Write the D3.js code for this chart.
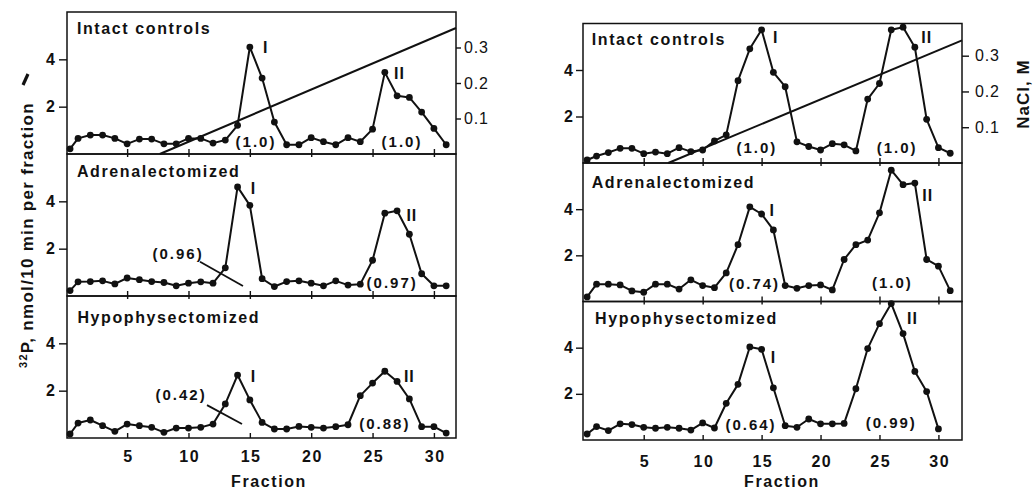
<!DOCTYPE html>
<html>
<head>
<meta charset="utf-8">
<script src="https://cdn.jsdelivr.net/npm/d3@7"></script>
<style>
  body { margin: 0; background: #fff; }
  text { font-family: "Liberation Sans", Arial, sans-serif; font-weight: bold; fill: #111; }
</style>
</head>
<body>
<svg id="chart" width="1035" height="489"></svg>
<script>
// fraction numbers (first point sits just inside the left frame)
const leftFractions = [0.35, 1, 2, 3, 4, 5, 6, 7, 8, 9, 10, 11, 12, 13, 14, 15, 16, 17, 18, 19, 20, 21, 22, 23, 24, 25, 26, 27, 28, 29, 30, 31];
const rightFractions = [0.2, 1, 2, 3, 4, 5, 6, 7, 8, 9, 10, 11, 12, 13, 14, 15, 16, 17, 18, 19, 20, 21, 22, 23, 24, 25, 26, 27, 28, 29, 30, 31];
const rightFractionsHypo = [0.2, 1, 2, 3, 4, 5, 6, 7, 8, 9, 10, 11, 12, 13, 14, 15, 16, 17, 18, 19, 20, 21, 22, 23, 24, 25, 26, 27, 28, 29, 30];

// 32P, nmol/10 min per fraction
const leftIntact = [0.22, 0.66, 0.8, 0.8, 0.66, 0.43, 0.63, 0.63, 0.43, 0.43, 0.66, 0.66, 0.46, 0.59, 1.21, 4.52, 3.21, 1.35, 0.39, 0.39, 0.69, 0.52, 0.39, 0.69, 0.52, 1.05, 3.45, 2.46, 2.39, 1.77, 1.08, 0.39];
const leftAdrenal = [0.23, 0.6, 0.61, 0.64, 0.51, 0.76, 0.69, 0.61, 0.57, 0.43, 0.54, 0.6, 0.54, 1.19, 4.61, 3.83, 0.73, 0.4, 0.61, 0.64, 0.54, 0.43, 0.64, 0.46, 0.5, 1.51, 3.5, 3.6, 2.61, 0.94, 0.43, 0.43];
const leftHypo = [0.17, 0.63, 0.76, 0.52, 0.28, 0.59, 0.52, 0.45, 0.24, 0.42, 0.42, 0.45, 0.59, 1.44, 2.66, 1.61, 0.66, 0.38, 0.38, 0.49, 0.45, 0.42, 0.48, 0.56, 1.79, 2.32, 2.82, 2.39, 1.65, 0.48, 0.48, 0.21];
const rightIntact = [0.13, 0.3, 0.45, 0.63, 0.63, 0.4, 0.47, 0.4, 0.66, 0.49, 0.56, 0.95, 1.21, 3.54, 4.91, 5.73, 3.9, 3.28, 0.91, 0.71, 0.56, 0.83, 0.78, 0.52, 2.75, 3.42, 5.73, 5.84, 4.98, 1.88, 0.66, 0.42];
const rightAdrenal = [0.2, 0.75, 0.75, 0.72, 0.46, 0.4, 0.75, 0.75, 0.54, 0.94, 0.69, 0.6, 1.24, 2.46, 4.1, 3.79, 3.1, 0.69, 0.57, 0.69, 0.72, 0.5, 1.82, 2.46, 2.66, 3.84, 5.69, 5.06, 5.13, 1.82, 1.53, 0.47];
const rightHypo = [0.26, 0.58, 0.41, 0.7, 0.67, 0.55, 0.51, 0.55, 0.51, 0.43, 0.74, 0.52, 1.59, 2.41, 4.03, 3.93, 2.26, 0.62, 0.55, 0.91, 0.7, 0.7, 0.72, 2.22, 3.96, 5.04, 5.91, 4.61, 2.97, 2.1, 0.48];

// NaCl gradient (fraction, M)
const leftGradient = [[7.66, 0], [31.8, 0.355]];
const rightGradient = [[7.08, 0], [32, 0.343]];

const xTicks = [5, 10, 15, 20, 25, 30];
const yTicks = [2, 4];
const naclTicks = [0.1, 0.2, 0.3];

// labels in data units [text, fraction, value, anchor]
const leftLabels = [
  [["Intact controls", 0.91, 5.09, "start"], ["I", 16.3, 4.28, "middle"], ["II", 27.2, 3.16, "middle"], ["(1.0)", 15.5, 0.3, "middle"], ["(1.0)", 27.4, 0.3, "middle"]],
  [["Adrenalectomized", 0.91, 5.03, "start"], ["I", 15.3, 4.31, "middle"], ["II", 28.2, 3.18, "middle"], ["(0.96)", 9.15, 1.55, "middle"], ["(0.97)", 26.6, 0.34, "middle"]],
  [["Hypophysectomized", 0.95, 4.85, "start"], ["I", 15.3, 2.38, "middle"], ["II", 28.0, 2.38, "middle"], ["(0.42)", 9.4, 1.6, "middle"], ["(0.88)", 26.0, 0.4, "middle"]]
];
const rightLabels = [
  [["Intact controls", 0.59, 5.08, "start"], ["I", 16.2, 5.15, "middle"], ["II", 29.0, 5.15, "middle"], ["(1.0)", 14.6, 0.45, "middle"], ["(1.0)", 26.5, 0.45, "middle"]],
  [["Adrenalectomized", 0.59, 4.9, "start"], ["I", 15.9, 3.7, "middle"], ["II", 29.1, 4.37, "middle"], ["(0.74)", 14.4, 0.54, "middle"], ["(1.0)", 26.1, 0.58, "middle"]],
  [["Hypophysectomized", 0.87, 5.01, "start"], ["I", 16.0, 3.35, "middle"], ["II", 27.8, 5.01, "middle"], ["(0.64)", 14.1, 0.43, "middle"], ["(0.99)", 26.0, 0.5, "middle"]]
];
// leader lines, left column only [panel, [f1, v1], [f2, v2]]
const leaders = [[1, [10.94, 1.45], [14.44, 0.42]], [2, [11.51, 1.39], [14.36, 0.59]]];

const svg = d3.select("#chart");
const FONT = "'Liberation Sans', Arial, sans-serif";

const sides = [
  { x0: 67, x1: 456, xDomain: [0.1, 31.8], edges: [12, 154, 296, 438], naclDomain: [0, 0.4],
    fractions: [leftFractions, leftFractions, leftFractions], series: [leftIntact, leftAdrenal, leftHypo],
    labels: leftLabels, gradient: leftGradient, tick: 8, pad: 4, naclTick: 5, naclPad: 3, xPad: 13, fracX: 269, fracY: 486.5 },
  { x0: 583, x1: 962, xDomain: [-0.15, 32], edges: [23.5, 163, 301.5, 440], naclDomain: [0, 0.39],
    fractions: [rightFractions, rightFractions, rightFractionsHypo], series: [rightIntact, rightAdrenal, rightHypo],
    labels: rightLabels, gradient: rightGradient, tick: 7, pad: 3, naclTick: 7, naclPad: 6, xPad: 15.5, fracX: 782, fracY: 487 }
];

sides.forEach((s, si) => {
  const x = d3.scaleLinear().domain(s.xDomain).range([s.x0, s.x1]);
  const g = svg.append("g");

  for (let p = 0; p < 3; p++) {
    const top = s.edges[p], bottom = s.edges[p + 1];
    const y = d3.scaleLinear().domain([0, 6]).range([bottom, top]);
    const pg = g.append("g");

    // y axis
    pg.append("g")
      .attr("transform", `translate(${s.x0},0)`)
      .call(d3.axisLeft(y).tickValues(yTicks).tickSize(s.tick).tickPadding(s.pad).tickFormat(d3.format("d")))
      .call(a => a.select(".domain").remove())
      .call(a => a.selectAll("line").attr("stroke", "#111").attr("stroke-width", 1.4))
      .call(a => a.selectAll("text").attr("font-size", 16).attr("fill", "#111")
        .style("font-family", FONT).style("font-weight", "bold"));

    // x ticks (inward), labels only on bottom panel
    pg.append("g")
      .attr("transform", `translate(0,${bottom})`)
      .call(d3.axisBottom(x).tickValues(xTicks).tickSize(-5).tickPadding(s.xPad)
        .tickFormat(p === 2 ? d3.format("d") : () => ""))
      .call(a => a.select(".domain").remove())
      .call(a => a.selectAll("line").attr("stroke", "#111").attr("stroke-width", 1.4))
      .call(a => a.selectAll("text").attr("font-size", 16).attr("fill", "#111")
        .attr("letter-spacing", "1.5px").attr("dx", "0.75px")
        .style("font-family", FONT).style("font-weight", "bold"));
    if (p > 0) {
      pg.append("g")
        .attr("transform", `translate(0,${top})`)
        .call(d3.axisTop(x).tickValues(xTicks).tickSize(-3).tickFormat(() => ""))
        .call(a => a.select(".domain").remove())
        .call(a => a.selectAll("line").attr("stroke", "#111").attr("stroke-width", 1.4));
    }

    // frame
    pg.append("rect")
      .attr("x", s.x0).attr("y", top)
      .attr("width", s.x1 - s.x0).attr("height", bottom - top)
      .attr("fill", "none").attr("stroke", "#111").attr("stroke-width", 1.5);

    // NaCl axis and gradient in the top panel
    if (p === 0) {
      const nacl = d3.scaleLinear().domain(s.naclDomain).range([bottom, top]);
      pg.append("g")
        .attr("transform", `translate(${s.x1},0)`)
        .call(d3.axisRight(nacl).tickValues(naclTicks).tickSize(s.naclTick).tickPadding(s.naclPad)
          .tickFormat(d3.format(".1f")))
        .call(a => a.select(".domain").remove())
        .call(a => a.selectAll("line").attr("stroke", "#111").attr("stroke-width", 1.4))
        .call(a => a.selectAll("text").attr("font-size", 16).attr("fill", "#111")
          .attr("letter-spacing", "0.8px")
          .style("font-family", FONT).style("font-weight", "normal"));

      pg.append("path")
        .datum(s.gradient)
        .attr("fill", "none").attr("stroke", "#111").attr("stroke-width", 2)
        .attr("d", d3.line().x(d => x(d[0])).y(d => nacl(d[1])));
    }

    // data
    const pts = s.fractions[p].map((f, i) => ({ f, v: s.series[p][i] }));
    pg.append("path")
      .datum(pts)
      .attr("fill", "none").attr("stroke", "#111").attr("stroke-width", 2)
      .attr("stroke-linejoin", "round")
      .attr("d", d3.line().x(d => x(d.f)).y(d => y(d.v)));
    pg.selectAll("circle.pt")
      .data(pts)
      .join("circle")
      .attr("class", "pt")
      .attr("cx", d => x(d.f)).attr("cy", d => y(d.v))
      .attr("r", 3.4).attr("fill", "#111");

    // labels
    pg.selectAll("text.lab")
      .data(s.labels[p])
      .join("text")
      .attr("class", "lab")
      .attr("x", d => x(d[1])).attr("y", d => y(d[2]))
      .attr("text-anchor", d => d[3])
      .attr("font-size", d => d[0].startsWith("(") ? 15 : 16)
      .attr("letter-spacing", d => d[0].startsWith("(") ? "2px" : d[0].startsWith("I") && d[0].length < 3 ? "1px" : "1.6px")
      .text(d => d[0]);

    if (si === 0) {
      leaders.filter(l => l[0] === p).forEach(l => {
        pg.append("line")
          .attr("x1", x(l[1][0])).attr("y1", y(l[1][1]))
          .attr("x2", x(l[2][0])).attr("y2", y(l[2][1]))
          .attr("stroke", "#111").attr("stroke-width", 1.8);
      });
    }
  }

  svg.append("text")
    .attr("x", s.fracX).attr("y", s.fracY)
    .attr("text-anchor", "middle")
    .attr("font-size", 16).attr("letter-spacing", "1.6px")
    .text("Fraction");
});

// y axis title
const yTitle = svg.append("text")
  .attr("transform", "translate(33,368) rotate(-90)")
  .attr("font-size", 17).attr("letter-spacing", "1.3px");
yTitle.append("tspan").attr("font-size", 11).attr("dy", -6).text("32");
yTitle.append("tspan").attr("dy", 6).text("P, nmol/10 min per fraction");
svg.append("line")
  .attr("x1", 23).attr("y1", 85).attr("x2", 28).attr("y2", 74)
  .attr("stroke", "#111").attr("stroke-width", 3.2);

// NaCl title
svg.append("text")
  .attr("transform", "translate(1029,94) rotate(-90)")
  .attr("text-anchor", "middle")
  .attr("font-size", 17).attr("letter-spacing", "1px")
  .text("NaCl, M");
</script>
</body>
</html>
